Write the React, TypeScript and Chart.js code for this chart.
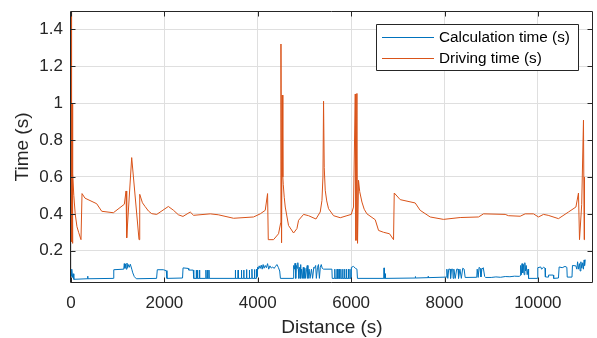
import { useEffect, useRef } from "react";
import { Chart, registerables } from "chart.js";

Chart.register(...registerables);

const FONT = "'Liberation Sans', Arial, Helvetica, sans-serif";

const xTicks = [0, 2000, 4000, 6000, 8000, 10000];
const yTicks = [0.2, 0.4, 0.6, 0.8, 1, 1.2, 1.4];
const seriesLabels = ["Calculation time (s)", "Driving time (s)"];
const axisTitles = { x: "Distance (s)", y: "Time (s)" };

// Driving time (s) vs distance
const driveDist = [
  0, 12, 22, 30, 40, 60, 90, 128, 163, 214, 236, 300, 550, 658, 907, 1142, 1179, 1193, 1300, 1457,
  1472, 1530, 1586, 1660, 1729, 1836, 2085, 2192, 2300, 2398, 2554, 2625, 2983, 3154, 3482, 3910,
  4053, 4160, 4210, 4225, 4338, 4445, 4490, 4497, 4510, 4524, 4537, 4546, 4567, 4589, 4659, 4767,
  4839, 4874, 4981, 5088, 5246, 5338, 5375, 5396, 5409, 5424, 5445, 5477, 5516, 5623, 5767, 5910,
  6002, 6051, 6088, 6103, 6124, 6137, 6158, 6184, 6231, 6280, 6338, 6516, 6587, 6694, 6822, 6908,
  6923, 7051, 7372, 7479, 7693, 7978, 8335, 8728, 8835, 9299, 9370, 9620, 9727, 9905, 10012, 10120,
  10220, 10441, 10655, 10814, 10869, 10891, 10938, 10976, 10991, 10998,
];
const driveTime = [
  1.6, 0.25, 1.0, 0.24, 0.62, 0.5, 0.4, 0.33, 0.3, 0.26, 0.51, 0.485, 0.455, 0.414, 0.406, 0.452, 0.524, 0.27, 0.705, 0.26,
  0.506, 0.46, 0.44, 0.415, 0.401, 0.397, 0.44, 0.42, 0.395, 0.386, 0.41, 0.392, 0.4, 0.395, 0.376, 0.383,
  0.4, 0.419, 0.51, 0.26, 0.26, 0.292, 0.35, 1.321, 0.243, 1.044, 0.6, 0.56, 0.49, 0.437, 0.337, 0.296,
  0.32, 0.365, 0.397, 0.39, 0.372, 0.41, 0.473, 0.6, 1.011, 0.65, 0.528, 0.47, 0.428, 0.39, 0.379, 0.39,
  0.397, 0.437, 1.05, 0.256, 1.053, 0.24, 0.582, 0.52, 0.464, 0.425, 0.4, 0.368, 0.31, 0.3, 0.292, 0.26,
  0.513, 0.477, 0.459, 0.419, 0.383, 0.37, 0.38, 0.383, 0.4, 0.397, 0.39, 0.387, 0.4, 0.4, 0.383, 0.397,
  0.392, 0.374, 0.41, 0.437, 0.513, 0.26, 0.45, 0.908, 0.26, 0.6,
];

// Calculation time (s) vs distance
const calcDist = [
  0, 11, 21, 34, 49, 60, 349, 355, 364, 906, 916, 1130, 1141, 1154, 1169, 1184, 1199, 1212, 1227, 1248,
  1270, 1302, 1323, 1355, 1398, 1833, 1848, 1976, 2040, 2055, 2389, 2400, 2511, 2522, 2618, 2629,
  2678, 2683, 2688, 2705, 2710, 2715, 2748, 2753, 2758, 2885, 2890, 2895, 2920, 2925, 2930, 2950, 2955, 2960,
  3515, 3520, 3525, 3575, 3580, 3585, 3645, 3650, 3655, 3695, 3700, 3705, 3755, 3760, 3765, 3815, 3820, 3825,
  3870, 3875, 3880, 3925, 3930, 3935, 3965, 3970, 3975, 3990, 3995,
  4010, 4030, 4050, 4075, 4095, 4115, 4135, 4160, 4185, 4210, 4235, 4260, 4290, 4320, 4350, 4380, 4410, 4440, 4470, 4485,
  4760, 4766, 4772, 4785, 4798, 4808, 4818, 4828, 4843, 4858, 4868, 4880, 4890, 4905, 4915, 4925, 4940, 4958, 4975, 4990,
  5010, 5025, 5045, 5060, 5075, 5100, 5120, 5150, 5175, 5200, 5215, 5240, 5255, 5280, 5300, 5320, 5340, 5360, 5380, 5409,
  5420, 5588, 5595, 5645, 5650, 5655, 5695, 5700, 5705, 5735, 5740, 5745, 5775, 5780, 5785, 5815, 5820, 5825,
  5855, 5860, 5865, 5895, 5900, 5905, 5935, 5940, 5945, 5970, 5975, 5980,
  6000, 6005, 6050, 6090, 6124, 6135, 6700, 6705, 6712, 6730, 6736, 7370, 7375, 7380, 7645, 7650, 7655,
  8040, 8050, 8070, 8090, 8120, 8130, 8150, 8175, 8185, 8200, 8230, 8260, 8290, 8300, 8330, 8360, 8390, 8420, 8442,
  8690, 8700, 8720, 8740, 8760, 8780, 8800, 8830, 8860, 8880, 9000, 9100, 9200, 9300, 9400, 9500, 9600, 9621,
  9630, 9645, 9660, 9675, 9690, 9705, 9720, 9735, 9750, 9770, 9790, 9800,
  9990, 9998, 10060, 10080, 10120, 10154, 10160, 10220, 10228, 10330, 10338, 10440, 10455, 10520, 10580, 10620,
  10628, 10730, 10740, 10813, 10834, 10850, 10870, 10890, 10905, 10920, 10940, 10960, 10975, 10990, 11000, 11013,
];
const calcTime = [
  0.095, 0.06, 0.1, 0.055, 0.075, 0.045, 0.048, 0.062, 0.048, 0.05, 0.097, 0.1, 0.13, 0.105, 0.128, 0.1, 0.133, 0.108, 0.125, 0.11,
  0.127, 0.1, 0.08, 0.06, 0.048, 0.05, 0.097, 0.097, 0.092, 0.05, 0.052, 0.107, 0.104, 0.095, 0.095, 0.05,
  0.05, 0.095, 0.05, 0.05, 0.095, 0.05, 0.05, 0.095, 0.05, 0.05, 0.095, 0.05, 0.05, 0.095, 0.05, 0.05, 0.095, 0.05,
  0.05, 0.095, 0.05, 0.05, 0.095, 0.05, 0.05, 0.095, 0.05, 0.05, 0.095, 0.05, 0.05, 0.098, 0.05, 0.05, 0.095, 0.05,
  0.05, 0.1, 0.05, 0.05, 0.098, 0.05, 0.05, 0.1, 0.055, 0.06, 0.11,
  0.1, 0.118, 0.104, 0.122, 0.1, 0.125, 0.105, 0.12, 0.108, 0.13, 0.1, 0.118, 0.106, 0.112, 0.104, 0.115, 0.125, 0.11, 0.09, 0.05,
  0.05, 0.05, 0.12, 0.1, 0.132, 0.1, 0.05, 0.12, 0.105, 0.135, 0.1, 0.05, 0.11, 0.1, 0.125, 0.05, 0.1, 0.05, 0.11, 0.05,
  0.105, 0.05, 0.1, 0.12, 0.05, 0.1, 0.05, 0.1, 0.05, 0.11, 0.105, 0.12, 0.05, 0.11, 0.125, 0.05, 0.11, 0.125, 0.105, 0.1,
  0.1, 0.1, 0.05, 0.05, 0.1, 0.05, 0.05, 0.1, 0.05, 0.05, 0.1, 0.05, 0.05, 0.1, 0.05, 0.05, 0.1, 0.05,
  0.05, 0.1, 0.05, 0.05, 0.1, 0.05, 0.05, 0.1, 0.05, 0.05, 0.1, 0.05,
  0.05, 0.11, 0.115, 0.105, 0.1, 0.05, 0.05, 0.107, 0.05, 0.075, 0.05, 0.052, 0.06, 0.052, 0.054, 0.06, 0.054,
  0.057, 0.1, 0.05, 0.1, 0.1, 0.05, 0.1, 0.1, 0.05, 0.1, 0.05, 0.1, 0.1, 0.05, 0.1, 0.05, 0.105, 0.1, 0.055,
  0.056, 0.1, 0.055, 0.11, 0.105, 0.058, 0.1, 0.108, 0.06, 0.055, 0.055, 0.058, 0.056, 0.06, 0.059, 0.062, 0.061, 0.065,
  0.12, 0.07, 0.13, 0.08, 0.125, 0.07, 0.135, 0.09, 0.12, 0.07, 0.1, 0.05,
  0.05, 0.108, 0.112, 0.1, 0.11, 0.105, 0.058, 0.057, 0.068, 0.068, 0.05, 0.052, 0.112, 0.108, 0.115, 0.11,
  0.057, 0.057, 0.12, 0.118, 0.1, 0.14, 0.1, 0.13, 0.09, 0.14, 0.105, 0.135, 0.1, 0.15, 0.12, 0.152,
];

const seriesColors = ["#0072BD", "#D95319"];

export default function App() {
  const ref = useRef<HTMLCanvasElement>(null);

  useEffect(() => {
    document.body.style.margin = "0";
    document.body.style.overflow = "hidden";
    const canvas = ref.current;
    if (!canvas) return;

    const framePlugin = {
      id: "matlabFrame",
      afterDraw(chart: any) {
        const { ctx, chartArea } = chart;
        const { left, right, top, bottom } = chartArea;
        const xs = chart.scales.x;
        const ys = chart.scales.y;
        ctx.save();
        ctx.strokeStyle = "#262626";
        ctx.lineWidth = 1;
        const L = Math.round(left) - 0.5;
        const R = Math.round(right) - 0.5;
        const T = Math.round(top) + 0.5;
        const B = Math.round(bottom) - 0.5;
        ctx.beginPath();
        ctx.rect(L, T, R - L, B - T);
        const tl = 5;
        xTicks.forEach((v) => {
          const p = Math.round(xs.getPixelForValue(v)) + 0.5;
          ctx.moveTo(p, B);
          ctx.lineTo(p, B - tl);
          ctx.moveTo(p, T);
          ctx.lineTo(p, T + tl);
        });
        yTicks.forEach((v) => {
          const p = Math.round(ys.getPixelForValue(v)) + 0.5;
          ctx.moveTo(L, p);
          ctx.lineTo(L + tl, p);
          ctx.moveTo(R, p);
          ctx.lineTo(R - tl, p);
        });
        ctx.stroke();

        // legend
        const lx = 376.5, ly = 24.5, lw = 202, lh = 46;
        ctx.fillStyle = "#ffffff";
        ctx.fillRect(lx, ly, lw, lh);
        ctx.beginPath();
        ctx.strokeStyle = "#262626";
        ctx.rect(lx, ly, lw, lh);
        ctx.stroke();
        ctx.font = `15.3px ${FONT}`;
        ctx.textBaseline = "middle";
        ctx.textAlign = "left";
        seriesLabels.forEach((label, i) => {
          const y = 37.5 + i * 21;
          ctx.beginPath();
          ctx.strokeStyle = seriesColors[i];
          ctx.moveTo(382, y);
          ctx.lineTo(434, y);
          ctx.stroke();
          ctx.fillStyle = "#000000";
          ctx.fillText(label, 439, y + 0.5);
        });
        ctx.restore();
      },
    };

    const chart = new Chart(canvas, {
      type: "line",
      data: {
        datasets: [
          {
            label: seriesLabels[0],
            data: calcDist.map((x, i) => ({ x, y: calcTime[i] })),
            borderColor: seriesColors[0],
            backgroundColor: seriesColors[0],
            borderWidth: 1,
            pointRadius: 0,
            tension: 0,
            clip: 0,
          },
          {
            label: seriesLabels[1],
            data: driveDist.map((x, i) => ({ x, y: driveTime[i] })),
            borderColor: seriesColors[1],
            backgroundColor: seriesColors[1],
            borderWidth: 1,
            pointRadius: 0,
            tension: 0,
            clip: 0,
          },
        ],
      },
      options: {
        responsive: false,
        animation: false,
        events: [],
        layout: { padding: { top: 11, right: 4, left: 0, bottom: 0 } },
        plugins: { legend: { display: false }, tooltip: { enabled: false } },
        scales: {
          x: {
            type: "linear",
            min: 0,
            max: 11180,
            afterBuildTicks: (s: any) => {
              s.ticks = xTicks.map((v) => ({ value: v }));
            },
            afterFit: (s: any) => {
              s.height = 55;
              s.paddingLeft = 0;
              s.paddingRight = 0;
              s.paddingTop = 0;
              s.paddingBottom = 0;
            },
            grid: { color: "#dfdfdf", drawTicks: false, lineWidth: 1 },
            border: { display: false },
            ticks: {
              autoSkip: false,
              maxRotation: 0,
              padding: 10,
              color: "#262626",
              font: { family: FONT, size: 17 },
              callback: (v: any) => String(v),
            },
            title: {
              display: true,
              text: axisTitles.x,
              color: "#262626",
              font: { family: FONT, size: 19 },
              padding: { top: 0, bottom: -1.5 },
            },
          },
          y: {
            type: "linear",
            min: 0.025,
            max: 1.5,
            afterBuildTicks: (s: any) => {
              s.ticks = yTicks.map((v) => ({ value: v }));
            },
            afterFit: (s: any) => {
              s.width = 71;
              s.paddingLeft = 0;
              s.paddingRight = 0;
              s.paddingTop = 0;
              s.paddingBottom = 0;
            },
            grid: { color: "#dfdfdf", drawTicks: false, lineWidth: 1 },
            border: { display: false },
            ticks: {
              autoSkip: false,
              padding: 8,
              color: "#262626",
              font: { family: FONT, size: 17 },
              callback: (v: any) => String(Math.round(Number(v) * 10) / 10),
            },
            title: {
              display: true,
              text: axisTitles.y,
              color: "#262626",
              font: { family: FONT, size: 19 },
              padding: { top: 11, bottom: 0 },
            },
          },
        },
      },
      plugins: [framePlugin],
    });

    return () => chart.destroy();
  }, []);

  return (
    <canvas
      ref={ref}
      width={597}
      height={338}
      style={{ display: "block", width: "597px", height: "338px" }}
    />
  );
}
